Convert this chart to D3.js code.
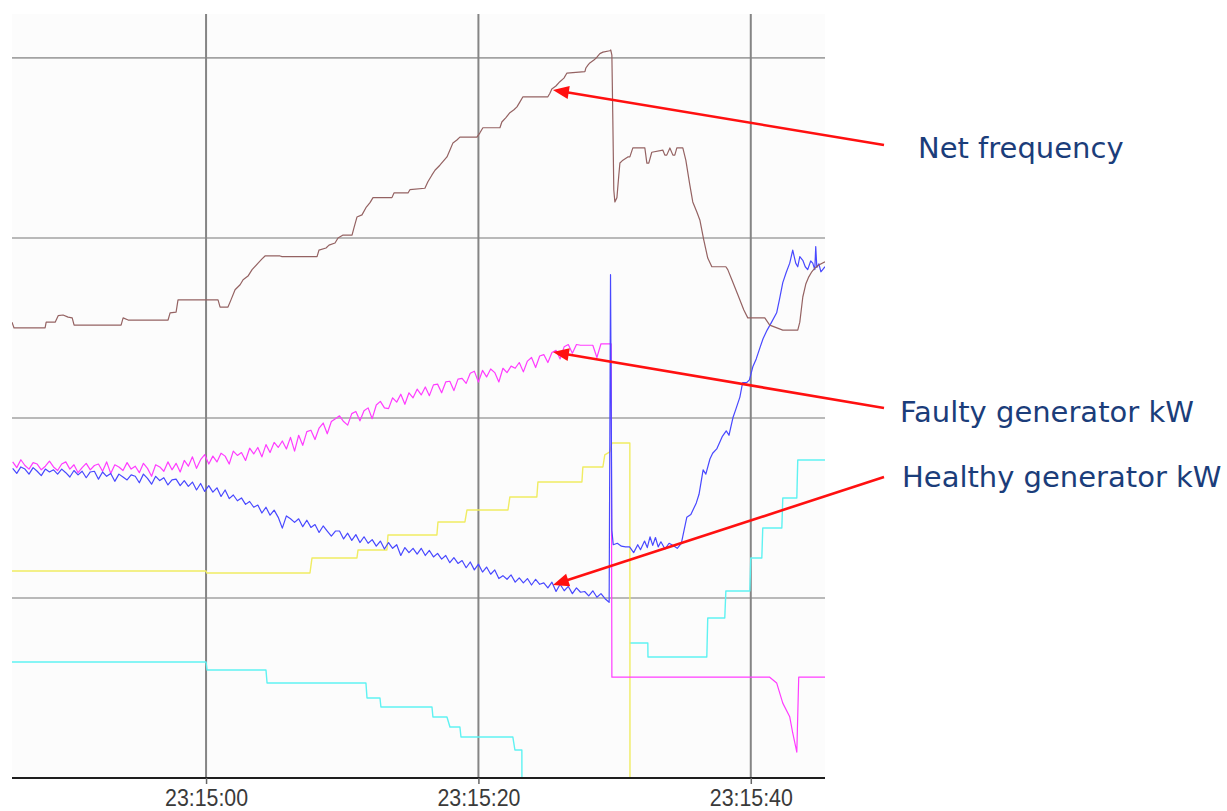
<!DOCTYPE html>
<html>
<head>
<meta charset="utf-8">
<script src="https://cdn.jsdelivr.net/npm/d3@7"></script>
<style>
  html, body { margin: 0; padding: 0; background: #ffffff; }
  svg { display: block; }
</style>
</head>
<body>
<svg id="chart" width="1227" height="811"></svg>
<script>
// Times are seconds relative to 23:15:00; values are percent of the recorder's full scale.
const timeTicks = [0, 20, 40];
const valueGrid = [25, 50, 75, 100];

// Sampled generator power before the trip (one sample every 0.3 s from -14.2 s)
const sampleStart = -14.2;
const sampleStep = 0.3;

const faultyKw = [
  43.9, 43.1, 44.2, 43.4, 42.9, 43.8, 43.6, 42.8, 43.3, 44.0,
  43.2, 42.7, 43.6, 43.9, 42.9, 43.5, 42.4, 43.1, 43.7, 42.8,
  43.4, 43.6, 42.6, 43.9, 42.3, 43.5, 43.2, 42.7, 43.8, 42.9,
  43.3, 42.4, 43.7, 43.0, 41.9, 43.5, 43.2, 42.6, 43.9, 42.8,
  43.7, 42.5, 44.1, 43.3, 44.6, 43.0, 44.2, 44.9, 43.6, 44.7,
  43.9, 45.1, 44.7, 43.6, 45.4, 44.8, 45.2, 44.1, 45.8, 45.0,
  45.9, 44.6, 46.3, 45.2, 46.6, 45.9, 46.8, 45.7, 47.3, 45.4,
  47.6, 46.2, 48.1, 48.3, 47.0, 48.6, 49.3, 47.8, 49.5, 49.9,
  50.3, 49.5, 49.0, 50.6, 50.9, 49.6, 51.0, 51.4, 49.9, 51.8,
  52.3, 51.4, 51.3, 52.8, 52.2, 53.3, 51.9, 53.5, 52.8, 54.0,
  53.2, 54.3, 53.1, 54.6, 54.7, 53.5, 55.0, 55.1, 53.8, 55.4,
  55.5, 54.8, 56.2, 56.5, 55.0, 56.6, 55.7, 56.8, 56.3, 55.0,
  56.9, 56.3, 57.2, 56.9, 57.7, 56.4, 57.9, 58.4, 57.0, 58.6,
  58.8, 57.7, 59.1, 59.4, 58.2, 59.9, 60.2, 59.0, 60.2, 60.1,
  60.1, 60.1, 60.1, 58.4, 60.3, 60.3, 60.3
];

const healthyKw = [
  43.0, 42.3, 43.2, 42.9, 42.2, 43.1, 42.6, 42.0, 42.9, 42.5,
  42.8, 42.2, 42.9, 42.4, 41.8, 42.7, 42.1, 42.6, 41.7, 42.5,
  42.6, 41.5, 42.5, 41.9, 42.3, 41.2, 42.2, 41.8, 41.4, 42.1,
  41.9, 41.0, 42.2, 41.6, 40.8, 41.9, 41.3, 41.7, 40.7, 41.4,
  41.5, 40.6, 41.3, 40.5, 41.1, 40.0, 40.9, 39.8, 40.6, 39.7,
  40.3, 39.1, 40.0, 38.8, 39.3, 38.5, 38.9, 38.0, 38.4, 37.6,
  37.9, 36.8, 37.6, 36.5, 37.2, 36.2, 34.7, 36.4, 36.0, 35.5,
  36.0, 34.9, 35.8, 34.8, 35.2, 34.1, 35.0, 34.3, 33.6, 34.3,
  34.3, 33.2, 34.0, 33.0, 33.8, 32.7, 33.5, 32.6, 33.1, 32.2,
  32.9, 31.8, 32.7, 31.9, 32.4, 30.9, 32.0, 31.3, 31.9, 31.1,
  31.9, 30.9, 31.6, 30.7, 31.2, 30.4, 30.9, 29.9, 30.6, 29.8,
  30.2, 29.2, 30.0, 28.9, 29.7, 28.6, 29.3, 28.3, 28.9, 27.7,
  28.1, 27.6, 28.2, 27.2, 27.8, 27.1, 27.7, 26.8, 27.6, 26.9,
  27.1, 26.4, 27.2, 25.9, 26.9, 26.0, 26.6, 25.6, 26.4, 25.8,
  25.9, 25.3, 26.0, 25.1, 25.6, 24.9, 24.4
];

// After the trip: [seconds, value]
const faultyAfterTrip = [
  [29.75, 60.3], [29.8, 14.0], [41.39, 14.0], [41.9, 13.2], [42.35, 10.4],
  [42.86, 8.5], [43.08, 6.25], [43.38, 3.6], [43.52, 14.0], [45.45, 14.0]
];

const healthyAfterTrip = [
  [29.7, 69.9], [29.8, 34.4], [29.9, 32.4], [30.2, 32.6], [30.5, 32.2], [30.8, 32.1],
  [31.1, 32.1], [31.4, 31.3], [31.7, 32.4], [31.9, 31.7], [32.2, 32.9], [32.4, 32.0],
  [32.6, 33.5], [32.8, 32.3], [33.0, 33.4], [33.2, 32.1], [33.4, 32.8], [33.7, 31.8],
  [34.0, 32.6], [34.3, 32.3], [34.6, 31.9], [34.9, 32.6], [35.0, 33.5], [35.3, 36.2],
  [35.6, 36.6], [36.0, 38.2], [36.2, 39.4], [36.5, 42.8], [36.7, 42.2], [37.0, 44.3],
  [37.2, 45.1], [37.5, 45.7], [37.9, 47.4], [38.2, 48.2], [38.4, 47.6], [38.7, 50.1],
  [38.9, 51.2], [39.2, 52.9], [39.4, 54.9], [39.7, 54.9], [39.9, 55.3], [40.15, 57.1],
  [40.4, 58.2], [40.7, 59.9], [40.9, 61.0], [41.2, 62.2], [41.5, 63.2], [41.9, 64.6],
  [42.1, 66.4], [42.35, 68.8], [42.6, 70.2], [42.86, 71.5], [43.08, 73.3], [43.3, 71.5],
  [43.45, 71.0], [43.6, 72.4], [43.82, 71.9], [44.0, 71.0], [44.18, 70.6], [44.4, 71.8],
  [44.55, 71.5], [44.7, 70.6], [44.77, 73.8], [44.85, 70.9], [45.0, 71.4], [45.15, 70.3],
  [45.28, 70.6], [45.45, 71.0]
];

const netFrequency = [
  [-14.25, 63.3], [-14.1, 62.5], [-11.82, 62.5], [-11.74, 63.3], [-11.08, 63.3],
  [-10.86, 64.2], [-10.5, 64.3], [-10.13, 64.0], [-9.83, 63.9], [-9.69, 62.9],
  [-6.24, 62.9], [-6.09, 63.9], [-5.72, 63.6], [-2.79, 63.6], [-2.64, 64.6],
  [-2.2, 64.7], [-2.06, 66.4], [0.88, 66.4], [1.03, 65.4], [1.61, 65.4],
  [1.83, 66.4], [2.13, 67.8], [2.5, 68.5], [2.72, 69.2], [3.08, 69.7],
  [3.38, 70.6], [3.82, 71.5], [4.11, 72.1], [4.33, 72.5], [5.43, 72.5],
  [5.58, 72.4], [8.15, 72.4], [8.29, 73.3], [8.81, 73.6], [9.03, 74.0],
  [9.47, 74.3], [9.69, 75.0], [10.06, 75.4], [10.72, 75.4], [10.86, 76.4],
  [11.08, 77.9], [11.45, 78.2], [11.74, 79.2], [12.04, 79.9], [12.26, 80.6],
  [13.65, 80.6], [13.8, 81.25], [14.83, 81.25], [14.97, 81.7], [16.07, 81.9],
  [16.29, 82.8], [16.59, 83.75], [16.81, 84.4], [17.17, 85.1], [17.69, 86.25],
  [17.91, 87.2], [18.13, 88.2], [18.42, 88.6], [18.64, 89.0], [19.89, 89.0],
  [20.11, 89.6], [20.33, 90.3], [21.58, 90.3], [21.72, 91.1], [22.02, 91.7],
  [22.31, 92.4], [22.61, 92.8], [22.83, 93.2], [23.05, 93.9], [23.27, 94.6],
  [25.1, 94.6], [25.25, 95.1], [25.39, 95.7], [25.69, 96.1], [25.98, 96.7],
  [26.28, 97.2], [26.5, 97.9], [27.82, 98.1], [27.89, 98.6], [28.04, 99.0],
  [28.18, 99.3], [28.48, 99.7], [28.7, 100.1], [28.92, 100.6], [29.14, 100.8],
  [29.65, 101.0], [29.72, 101.1], [29.8, 100.4], [29.87, 91.4], [29.94, 81.7],
  [30.02, 80.0], [30.17, 80.6], [30.31, 83.75], [30.39, 85.4], [30.61, 85.8],
  [30.97, 86.25], [31.12, 86.25], [31.34, 87.5], [32.22, 87.5], [32.37, 85.4],
  [32.51, 85.4], [32.73, 86.9], [33.54, 87.2], [33.69, 86.5], [33.83, 86.5],
  [34.06, 87.5], [34.28, 86.5], [34.42, 86.5], [34.57, 87.5], [35.01, 87.5],
  [35.23, 85.8], [35.52, 82.4], [35.74, 80.0], [36.04, 78.6], [36.26, 77.5],
  [36.55, 74.7], [36.84, 72.2], [37.14, 71.0], [38.17, 71.0], [38.31, 70.6],
  [38.61, 69.2], [39.05, 67.1], [39.49, 65.0], [39.78, 63.9], [41.03, 63.9],
  [41.39, 62.9], [42.35, 62.2], [43.45, 62.2], [43.6, 63.3], [43.82, 66.8],
  [44.04, 68.6], [44.26, 69.6], [44.48, 70.3], [44.7, 70.8], [44.99, 71.25],
  [45.45, 71.7]
];

const yellowTrace = [
  [-14.25, 28.75], [0, 28.75], [0.05, 28.47], [7.63, 28.47], [7.78, 30.56],
  [11.08, 30.56], [11.16, 31.67], [13.28, 31.67], [13.36, 33.75], [16.95, 33.75],
  [17.03, 35.56], [19.01, 35.56], [19.16, 37.22], [22.17, 37.22], [22.31, 39.03],
  [24.29, 39.03], [24.37, 41.11], [27.6, 41.11], [27.67, 43.19], [29.14, 43.19],
  [29.28, 44.86], [29.65, 45.28], [29.8, 46.53], [31.12, 46.53], [31.13, -5]
];

// null marks the stretch where the trace is below the bottom of the scale
const cyanTrace = [
  [-14.25, 16.11], [0, 16.11], [0.07, 15.0], [4.4, 15.0], [4.48, 13.19],
  [11.74, 13.19], [11.82, 11.11], [12.77, 11.11], [12.84, 9.86], [16.59, 9.86],
  [16.66, 8.47], [17.69, 8.47], [17.91, 7.08], [18.64, 7.08], [18.72, 5.69],
  [22.53, 5.69], [22.68, 3.89], [23.19, 3.89], [23.2, -5], [27, null],
  [31.12, 18.75], [32.44, 18.75], [32.45, 16.81], [36.77, 16.81], [36.84, 22.22],
  [38.09, 22.22], [38.17, 25.97], [39.93, 25.97], [40.0, 30.56], [40.81, 30.56],
  [40.88, 34.72], [42.28, 34.72], [42.35, 38.89], [43.38, 38.89], [43.45, 44.17],
  [45.45, 44.17]
];

const annotationLabels = ["Net frequency", "Faulty generator kW", "Healthy generator kW"];
const annotationTips = [[25.47, 95.56], [25.47, 59.17], [25.47, 26.81]];

// ---------------------------------------------------------------------------
const svg = d3.select("#chart");
const plot = { left: 12, right: 825, top: 14, bottom: 778 };

const base = new Date(2000, 0, 1, 23, 15, 0);
const at = s => new Date(base.getTime() + s * 1000);

const x = d3.scaleTime()
  .domain([at(-14.25), at(45.45)])
  .range([plot.left, plot.right]);

const y = d3.scaleLinear()
  .domain([0, 106.1])
  .range([plot.bottom, plot.top]);

svg.append("rect")
  .attr("x", plot.left).attr("y", plot.top)
  .attr("width", plot.right - plot.left).attr("height", plot.bottom - plot.top)
  .attr("fill", "#fcfcfc");

svg.append("defs").append("clipPath").attr("id", "plot-clip")
  .append("rect")
  .attr("x", plot.left).attr("y", plot.top)
  .attr("width", plot.right - plot.left).attr("height", plot.bottom - plot.top);

// grid
svg.append("g").selectAll("line").data(valueGrid).join("line")
  .attr("x1", plot.left).attr("x2", plot.right)
  .attr("y1", d => y(d)).attr("y2", d => y(d))
  .attr("stroke", "#a3a3a3").attr("stroke-width", 1.6);

svg.append("g").selectAll("line").data(timeTicks).join("line")
  .attr("x1", d => x(at(d))).attr("x2", d => x(at(d)))
  .attr("y1", plot.top).attr("y2", plot.bottom)
  .attr("stroke", "#858585").attr("stroke-width", 2);

// traces
const series = svg.append("g").attr("clip-path", "url(#plot-clip)");
const line = d3.line()
  .defined(d => d[1] !== null)
  .x(d => x(at(d[0])))
  .y(d => y(d[1]));

const sampled = vals => vals.map((v, i) => [sampleStart + i * sampleStep, v]);

function trace(data, color, width) {
  series.append("path")
    .datum(data)
    .attr("fill", "none")
    .attr("stroke", color)
    .attr("stroke-width", width)
    .attr("stroke-linejoin", "round")
    .attr("d", line);
}

trace(cyanTrace, "#5ff2f2", 1.4);
trace(yellowTrace, "#f0ec62", 1.4);
trace(sampled(faultyKw).concat(faultyAfterTrip), "#ff3cff", 1.2);
trace(sampled(healthyKw).concat(healthyAfterTrip), "#4848ff", 1.2);
trace(netFrequency, "#946262", 1.2);

// time axis
const axis = d3.axisBottom(x)
  .tickValues(timeTicks.map(at))
  .tickFormat(d3.timeFormat("%H:%M:%S"))
  .tickSizeInner(6)
  .tickSizeOuter(0);

const axisG = svg.append("g")
  .attr("transform", `translate(0,${plot.bottom})`)
  .call(axis);

axisG.select(".domain")
  .attr("d", `M${plot.left},0H${plot.right}`)
  .attr("stroke", "#1e1e1e").attr("stroke-width", 2.2);
axisG.selectAll(".tick line").attr("stroke", "#666").attr("stroke-width", 1.5);
axisG.selectAll(".tick text")
  .attr("y", 28).attr("dy", 0)
  .attr("fill", "#3a3a3a")
  .attr("font-family", "'Liberation Sans', Arial, sans-serif")
  .attr("font-size", 24)
  .attr("textLength", 83)
  .attr("lengthAdjust", "spacingAndGlyphs");

// annotations
const labelPos = [[918, 158], [900, 422], [902, 487]];
const tailPos = [[884, 145], [884, 408], [884, 477]];
const ann = svg.append("g");

annotationLabels.forEach((label, i) => {
  const tip = [x(at(annotationTips[i][0])), y(annotationTips[i][1])];
  const tail = tailPos[i];
  const dx = tip[0] - tail[0], dy = tip[1] - tail[1];
  const len = Math.hypot(dx, dy);
  const ux = dx / len, uy = dy / len;
  const headLen = 16, headHalf = 6.5;
  const baseX = tip[0] - ux * headLen, baseY = tip[1] - uy * headLen;

  ann.append("line")
    .attr("x1", tail[0]).attr("y1", tail[1])
    .attr("x2", baseX + ux * 2).attr("y2", baseY + uy * 2)
    .attr("stroke", "#ff1010").attr("stroke-width", 2.6);

  ann.append("polygon")
    .attr("points", [
      [tip[0], tip[1]],
      [baseX - uy * headHalf, baseY + ux * headHalf],
      [baseX + uy * headHalf, baseY - ux * headHalf]
    ].map(p => p.join(",")).join(" "))
    .attr("fill", "#ff1010");

  ann.append("text")
    .attr("x", labelPos[i][0]).attr("y", labelPos[i][1])
    .attr("font-family", "'DejaVu Sans', Verdana, sans-serif")
    .attr("font-size", 29)
    .attr("fill", "#1b3d7a")
    .text(label);
});
</script>
</body>
</html>
